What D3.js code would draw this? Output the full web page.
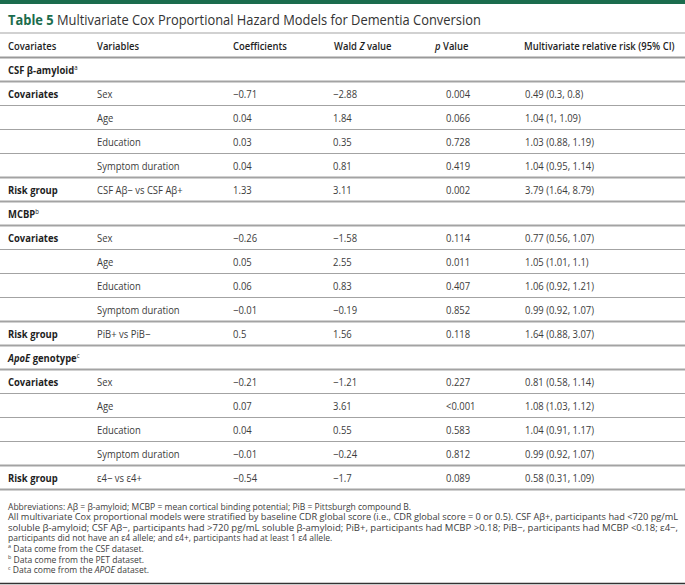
<!DOCTYPE html>
<html><head><meta charset="utf-8">
<script src="https://cdn.jsdelivr.net/npm/d3@7"></script>
<style>body{margin:0;background:#fff}svg{display:block}</style>
</head><body>
<script>
const titleLabel = "Table 5";
const titleText = "Multivariate Cox Proportional Hazard Models for Dementia Conversion";
const headers = ["Covariates", "Variables", "Coefficients", "Wald Z value", "p Value", "Multivariate relative risk (95% CI)"];
const sections = ["CSF β-amyloid", "MCBP", "ApoE genotype"];
const sectionNotes = ["a", "b", "c"];
const groupLabels = ["Covariates", "", "", "", "Risk group"];
const variables = [
  ["Sex", "Age", "Education", "Symptom duration", "CSF Aβ− vs CSF Aβ+"],
  ["Sex", "Age", "Education", "Symptom duration", "PiB+ vs PiB−"],
  ["Sex", "Age", "Education", "Symptom duration", "ε4− vs ε4+"]
];
const coefficients = [
  ["−0.71", "0.04", "0.03", "0.04", "1.33"],
  ["−0.26", "0.05", "0.06", "−0.01", "0.5"],
  ["−0.21", "0.07", "0.04", "−0.01", "−0.54"]
];
const waldZ = [
  ["−2.88", "1.84", "0.35", "0.81", "3.11"],
  ["−1.58", "2.55", "0.83", "−0.19", "1.56"],
  ["−1.21", "3.61", "0.55", "−0.24", "−1.7"]
];
const pValues = [
  ["0.004", "0.066", "0.728", "0.419", "0.002"],
  ["0.114", "0.011", "0.407", "0.852", "0.118"],
  ["0.227", "<0.001", "0.583", "0.812", "0.089"]
];
const relativeRisk = [
  ["0.49 (0.3, 0.8)", "1.04 (1, 1.09)", "1.03 (0.88, 1.19)", "1.04 (0.95, 1.14)", "3.79 (1.64, 8.79)"],
  ["0.77 (0.56, 1.07)", "1.05 (1.01, 1.1)", "1.06 (0.92, 1.21)", "0.99 (0.92, 1.07)", "1.64 (0.88, 3.07)"],
  ["0.81 (0.58, 1.14)", "1.08 (1.03, 1.12)", "1.04 (0.91, 1.17)", "0.99 (0.92, 1.07)", "0.58 (0.31, 1.09)"]
];
const footnotes = [
  "Abbreviations: Aβ = β-amyloid; MCBP = mean cortical binding potential; PiB = Pittsburgh compound B.",
  "All multivariate Cox proportional models were stratified by baseline CDR global score (i.e., CDR global score = 0 or 0.5). CSF Aβ+, participants had <720 pg/mL",
  "soluble β-amyloid; CSF Aβ−, participants had >720 pg/mL soluble β-amyloid; PiB+, participants had MCBP >0.18; PiB−, participants had MCBP <0.18; ε4−,",
  "participants did not have an ε4 allele; and ε4+, participants had at least 1 ε4 allele."
];
const sourceNotes = [["a", "Data come from the CSF dataset."], ["b", "Data come from the PET dataset."], ["c", "Data come from the ", "APOE", " dataset."]];

const W = 685, H = 585;
const green = "#1b6c4d", textCol = "#3c3c3c", boldCol = "#1e1e1e", lineCol = "#a3a3a3";
const FONT = "'Open Sans', sans-serif";
const SX = 0.86;

const svg = d3.select("body").append("svg").attr("width", W).attr("height", H);

const rows = [];
sections.forEach((s, si) => {
  rows.push({type: "section", si});
  for (let k = 0; k < 5; k++) rows.push({type: "data", si, k});
});

const colX = d3.scaleOrdinal().domain(d3.range(6)).range([8, 97, 233, 334, 435, 524]);
const dataX = d3.scaleOrdinal().domain(d3.range(6)).range([8, 97, 233, 333, 446, 525]);
const RH = 24.0;
const y = d3.scaleLinear().domain([0, rows.length]).range([57.5, 57.5 + rows.length * RH]);

function txt(g, x, yy, opts = {}) {
  return g.append("text")
    .attr("transform", `translate(${x},${yy}) scale(${opts.sx || SX},1)`)
    .attr("font-family", FONT)
    .attr("font-size", opts.size || 11)
    .attr("font-weight", opts.weight || 400)
    .attr("fill", opts.fill || textCol);
}

svg.append("rect").attr("x", 0).attr("y", 0).attr("width", W).attr("height", 4).attr("fill", green);

const tt = txt(svg, 8, 25, {size: 15, fill: "#333"});
tt.append("tspan").attr("font-weight", 700).attr("fill", green).text(titleLabel);
tt.append("tspan").text(" " + titleText);

svg.append("line").attr("x1", 0).attr("x2", W).attr("y1", 33).attr("y2", 33).attr("stroke", lineCol).attr("stroke-width", 1.2);

headers.forEach((h, i) => {
  const t = txt(svg, colX(i), 50, {weight: 600, fill: boldCol});
  if (i === 3) { t.append("tspan").text("Wald "); t.append("tspan").attr("font-style", "italic").text("Z"); t.append("tspan").text(" value"); }
  else if (i === 4) { t.append("tspan").attr("font-style", "italic").text("p"); t.append("tspan").text(" Value"); }
  else t.text(h);
});
svg.append("line").attr("x1", 0).attr("x2", W).attr("y1", 57.5).attr("y2", 57.5).attr("stroke", "#999").attr("stroke-width", 2);

rows.forEach((r, i) => {
  const base = y(i) + RH / 2 + 4;
  if (r.type === "section") {
    const t = txt(svg, 8, base, {weight: 700, fill: boldCol});
    if (r.si === 2) {
      t.append("tspan").attr("font-style", "italic").text("ApoE");
      t.append("tspan").text(" genotype");
    } else t.append("tspan").text(sections[r.si]);
    t.append("tspan").attr("font-size", 7).attr("dy", -4).attr("font-weight", 400).text(sectionNotes[r.si]);
  } else {
    const gl = groupLabels[r.k];
    if (gl) txt(svg, dataX(0), base, {weight: 700, fill: boldCol}).text(gl);
    txt(svg, dataX(1), base).text(variables[r.si][r.k]);
    txt(svg, dataX(2), base).text(coefficients[r.si][r.k]);
    txt(svg, dataX(3), base).text(waldZ[r.si][r.k]);
    txt(svg, dataX(4), base).text(pValues[r.si][r.k]);
    txt(svg, dataX(5), base).text(relativeRisk[r.si][r.k]);
  }
  let sw = 1;
  if (r.type === "section" || (r.type === "data" && r.k >= 3)) sw = 1.8;
  svg.append("line").attr("x1", 0).attr("x2", W).attr("y1", y(i + 1)).attr("y2", y(i + 1))
    .attr("stroke", lineCol).attr("stroke-width", sw);
});

const fy0 = y(rows.length) + 20, fdy = 10.6, FS = 9.5, FSX = 0.9;
footnotes.forEach((f, i) => {
  const t = txt(svg, 8, fy0 + i * fdy, {size: FS, sx: FSX}).text(f);
  if (i === 1 || i === 2) t.attr("textLength", (678 - 8) / FSX).attr("lengthAdjust", "spacingAndGlyphs");
});
sourceNotes.forEach((n, i) => {
  const t = txt(svg, 8, fy0 + (footnotes.length + i) * fdy, {size: FS, sx: FSX});
  t.append("tspan").attr("font-size", 6).attr("dy", -3.5).text(n[0]);
  t.append("tspan").attr("dy", 3.5).text(" " + n[1]);
  if (n.length > 2) { t.append("tspan").attr("font-style", "italic").text(n[2]); t.append("tspan").text(n[3]); }
});
svg.append("line").attr("x1", 0).attr("x2", W).attr("y1", 583.5).attr("y2", 583.5).attr("stroke", "#333").attr("stroke-width", 1.5);
</script>
</body></html>
